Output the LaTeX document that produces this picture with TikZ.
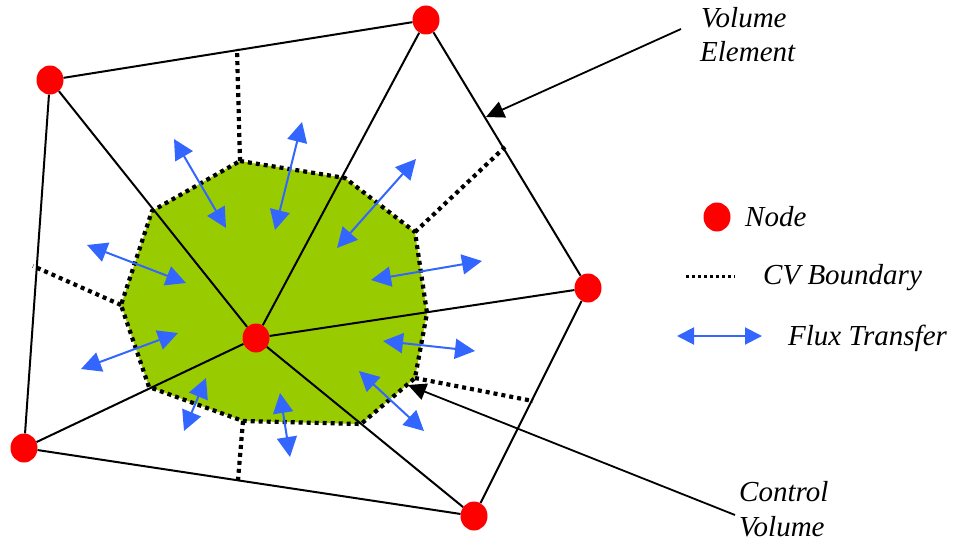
\documentclass[tikz,border=0pt]{standalone}
\usepackage{fontspec}
\setmainfont{Liberation Serif}
\usetikzlibrary{arrows.meta,shapes.geometric}
\definecolor{cvgreen}{HTML}{99CC00}
\definecolor{fluxblue}{HTML}{3366FF}
\tikzset{
 meshnode/.style={ellipse,fill=red,draw=none,minimum width=27pt,minimum height=29pt,inner sep=0pt},
 mesh/.style={line width=2pt,black},
 cvb/.style={line width=4.2pt,black,dash pattern=on 4pt off 4pt},
 flux/.style={line width=2pt,fluxblue,{Triangle[length=20pt,width=20pt]}-{Triangle[length=20pt,width=20pt]}},
 legflux/.style={line width=2pt,fluxblue,{Triangle[length=17pt,width=17pt]}-{Triangle[length=17pt,width=17pt]}},
 callout/.style={line width=1.8pt,black,-{Triangle[length=18pt,width=17pt]}},
 lbl/.style={anchor=base west,inner sep=0pt,font=\fontsize{29}{29}\selectfont\itshape}
}
\begin{document}
\begin{tikzpicture}[x=1pt,y=-1pt]
\useasboundingbox (0,0) rectangle (960,543);
% CV polygon corners
\coordinate (p1) at (240,161);
\coordinate (p2) at (345,178);
\coordinate (p3) at (415,232);
\coordinate (p4) at (427,313);
\coordinate (p5) at (415,378);
\coordinate (p6) at (361,424);
\coordinate (p7) at (243,421);
\coordinate (p8) at (149,387);
\coordinate (p9) at (121,305);
\coordinate (p10) at (152,211);
\fill[cvgreen] (p1)--(p2)--(p3)--(p4)--(p5)--(p6)--(p7)--(p8)--(p9)--(p10)--cycle;
\draw[cvb] (p1)--(p2)--(p3)--(p4)--(p5)--(p6)--(p7)--(p8)--(p9)--(p10)--cycle;
% free ends of the dotted lines
\coordinate (d1) at (237,49);
\coordinate (d2) at (505,147);
\coordinate (d3) at (533,401);
\coordinate (d4) at (238,480);
\coordinate (d5) at (33,266);
\draw[cvb] (p1)--(d1);
\draw[cvb] (p3)--(d2);
\draw[cvb] (p5)--(d3);
\draw[cvb] (p7)--(d4);
\draw[cvb] (p9)--(d5);
% nodes
\node[meshnode] (c) at (256,338) {};
\node[meshnode] (n1) at (50,80) {};
\node[meshnode] (n2) at (426,20) {};
\node[meshnode] (n3) at (588,288) {};
\node[meshnode] (n4) at (474,516) {};
\node[meshnode] (n5) at (24,448) {};
\node[meshnode] (legnode) at (717,217) {};
% mesh
\draw[mesh] (n1)--(n2);
\draw[mesh] (n2)--(n3);
\draw[mesh] (n3)--(n4);
\draw[mesh] (n4)--(n5);
\draw[mesh] (n5)--(n1);
\draw[mesh] (c)--(n1);
\draw[mesh] (c)--(n2);
\draw[mesh] (c)--(n3);
\draw[mesh] (c)--(n4);
\draw[mesh] (c)--(n5);
% flux arrows
\foreach \ax/\ay/\bx/\by in {174/139/226/228,302/122/275/230,416/159/337/248,482/261/371/280,475/351/383/341,424/431/359/371,290/457/280/393,184/431/206/378,81/369/178/333,87/245/186/283}{
  \draw[flux] (\ax,\ay)--(\bx,\by);
}
% labels
\node[lbl] (ve1) at (701,28) {Volume};
\node[lbl] (ve2) at (700,62) {Element};
\node[lbl] (cv1) at (739,501) {Control};
\node[lbl] (cv2) at (739,536) {Volume};
\node[lbl] (tn) at (745,226) {Node};
\node[lbl] (tb) at (763,284) {CV Boundary};
\node[lbl] (tf) at (788,345) {Flux Transfer};
% callouts
\coordinate (a1) at (681,29);
\coordinate (a2) at (486,117);
\coordinate (a3) at (735,515);
\coordinate (a4) at (408,385);
\draw[callout] (a1)--(a2);
\draw[callout] (a3)--(a4);
% legend
\coordinate (l1) at (686,276);
\coordinate (l2) at (735,276);
\draw[line width=3pt,black,dash pattern=on 3pt off 3pt] (l1)--(l2);
\coordinate (l3) at (677,336);
\coordinate (l4) at (762,336);
\draw[legflux] (l3)--(l4);
\end{tikzpicture}
\end{document}
